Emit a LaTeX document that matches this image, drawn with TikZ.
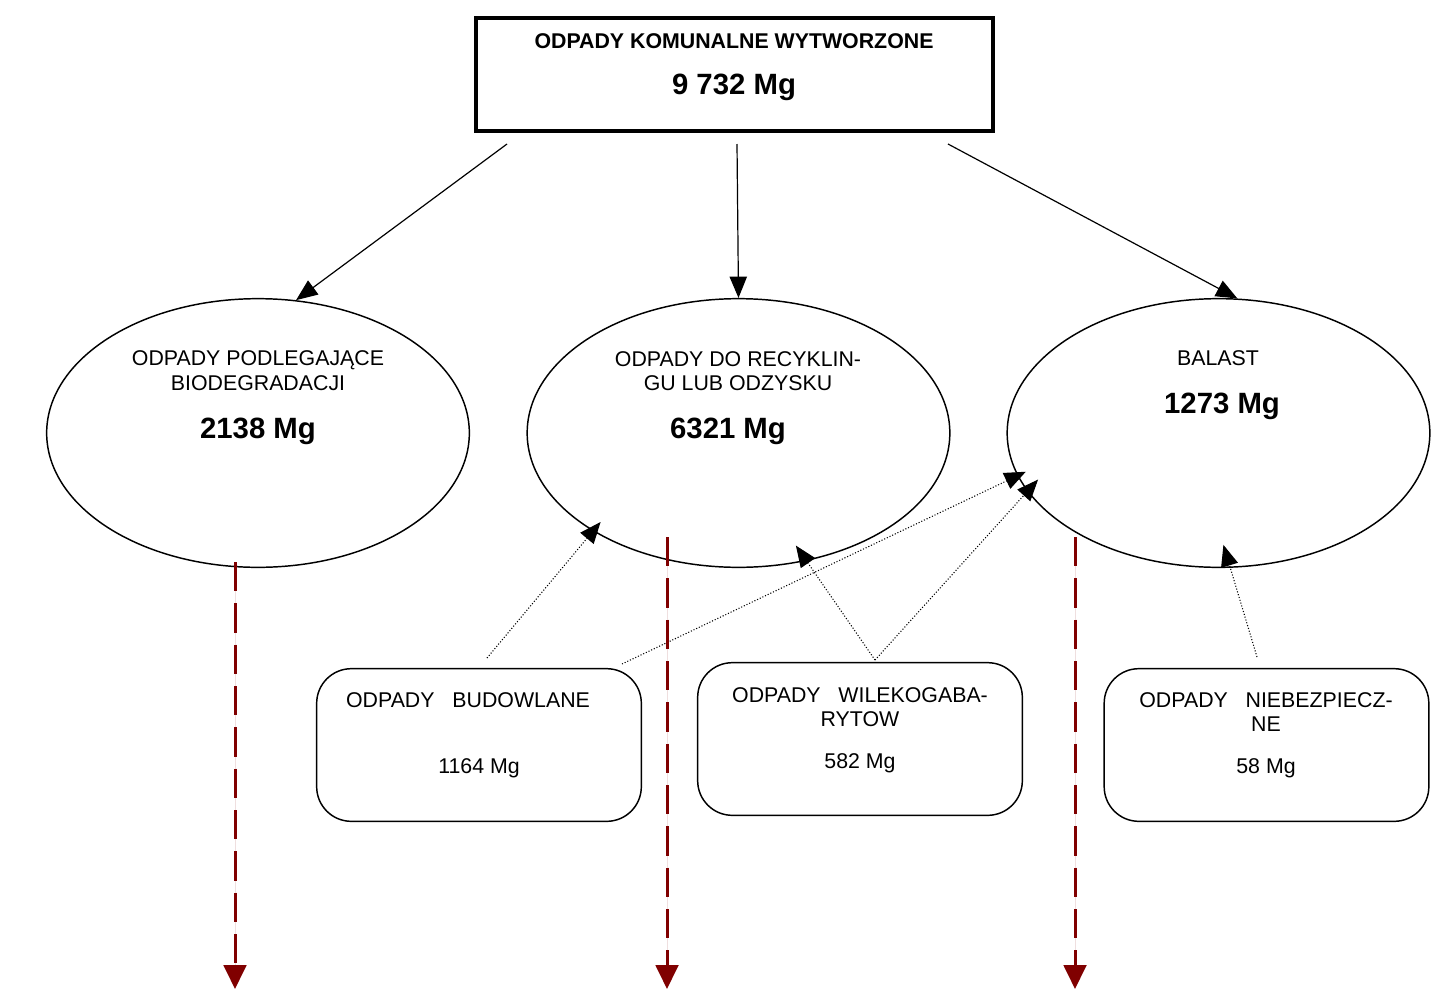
\documentclass[tikz,border=0pt]{standalone}
\usepackage{fontspec}
\setmainfont{Liberation Sans}
\usetikzlibrary{arrows.meta,shapes.geometric}

\definecolor{odpred}{RGB}{128,0,0}

\tikzset{
  txt/.style={anchor=base, inner sep=0pt, font=\fontsize{16}{18}\selectfont},
  numtxt/.style={anchor=base, inner sep=0pt, font=\fontsize{22}{24}\selectfont\bfseries},
  ell/.style={draw, ellipse, line width=1.1pt, inner sep=0pt, minimum width=317pt, minimum height=201.5pt},
  rbox/.style={draw, rounded corners=26pt, line width=1.1pt, inner sep=0pt, minimum width=243.5pt, minimum height=114.5pt},
  flow/.style={-{Triangle[length=16pt,width=13pt]}, line width=0.9pt},
  feed/.style={-{Triangle[length=16pt,width=13pt]}, line width=0.8pt, dash pattern=on 0.8pt off 1.4pt},
  discard/.style={-{Triangle[length=18pt,width=17pt]}, draw=odpred, fill=odpred, line width=2.25pt, dash pattern=on 22pt off 9pt},
}

\begin{document}
\begin{tikzpicture}[x=0.75pt,y=0.75pt,yscale=-1,xscale=1]
\useasboundingbox (0,0) rectangle (1434,989);

%Shape: Rectangle [total]
\node (total) [draw, line width=3pt, inner sep=0pt, minimum width=387.75pt, minimum height=84.75pt] at (734.5,74.5) {};
% Text Node
\node (total1) [txt, font=\fontsize{16}{18}\selectfont\bfseries] at (734,48.5) {ODPADY KOMUNALNE WYTWORZONE};
% Text Node
\node (total2) [numtxt] at (734,94) {9 732 Mg};

%Shape: Ellipse [bio]
\node (bio) [ell] at (258,433) {};
\node (bio1) [txt] at (258,365) {ODPADY PODLEGAJĄCE};
\node (bio2) [txt] at (258,390) {BIODEGRADACJI};
\node (bio3) [numtxt] at (258,438) {2138 Mg};

%Shape: Ellipse [rec]
\node (rec) [ell] at (738.5,433) {};
\node (rec1) [txt] at (738,366) {ODPADY DO RECYKLIN-};
\node (rec2) [txt] at (738,390) {GU LUB ODZYSKU};
\node (rec3) [numtxt] at (728,438) {6321 Mg};

%Shape: Ellipse [bal]
\node (bal) [ell] at (1218.5,433) {};
\node (bal1) [txt] at (1218,365) {BALAST};
\node (bal2) [numtxt] at (1222,413) {1273 Mg};

%Shape: Rounded Rectangle [bud]
\node (bud) [rbox] at (479,745) {};
\node (bud1) [txt] at (468,707) {ODPADY\ \ \ BUDOWLANE};
\node (bud2) [txt] at (479,773) {1164 Mg};

%Shape: Rounded Rectangle [wlk]
\node (wlk) [rbox] at (860,739) {};
\node (wlk1) [txt] at (860,702) {ODPADY\ \ \ WILEKOGABA-};
\node (wlk2) [txt] at (860,726) {RYTOW};
\node (wlk3) [txt] at (860,768) {582 Mg};

%Shape: Rounded Rectangle [nbz]
\node (nbz) [rbox] at (1266.5,745) {};
\node (nbz1) [txt] at (1266,707) {ODPADY\ \ \ NIEBEZPIECZ-};
\node (nbz2) [txt] at (1266,731) {NE};
\node (nbz3) [txt] at (1266,773) {58 Mg};

% free ends
\coordinate (t1) at (507,144);
\coordinate (t2) at (737,144);
\coordinate (t3) at (948,144);
\coordinate (bud-a) at (487,658);
\coordinate (bud-b) at (622,664);
\coordinate (wlk-a) at (875,660);
\coordinate (nbz-a) at (1257,657);
\coordinate (bio-d) at (235,562);
\coordinate (rec-d) at (667,537);
\coordinate (bal-d) at (1075,537);
\coordinate (bio-e) at (235,989);
\coordinate (rec-e) at (667,989);
\coordinate (bal-e) at (1075,989);

%Straight Lines
\draw [flow] (t1) -- (bio.74);
\draw [flow] (t2) -- (rec.north);
\draw [flow] (t3) -- (bal.82);

%Dotted Lines
\draw [feed, shorten >=-9pt] (bud-a) -- (rec.214);
\draw [feed, shorten >=-7pt] (bud-b) -- (bal.192);
\draw [feed, shorten >=-14pt] (wlk-a) -- (rec.298);
\draw [feed, shorten >=-12pt] (wlk-a) -- (bal.197.6);
\draw [feed, shorten >=-18pt] (nbz-a) -- (bal.275);

%Dashed Lines
\draw [discard] (bio-d) -- (bio-e);
\draw [discard] (rec-d) -- (rec-e);
\draw [discard] (bal-d) -- (bal-e);

\end{tikzpicture}
\end{document}
